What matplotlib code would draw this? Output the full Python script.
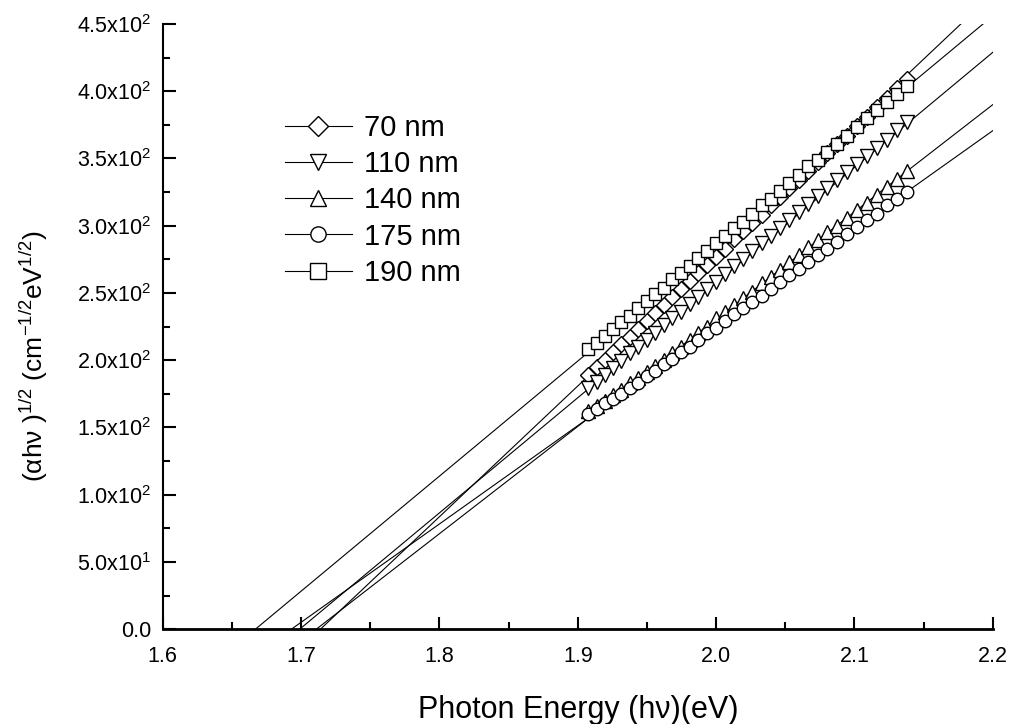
import numpy as np
import matplotlib
matplotlib.use("Agg")
import matplotlib.pyplot as plt
from matplotlib.lines import Line2D
from matplotlib.ticker import MultipleLocator, FuncFormatter

plt.rcParams['font.family'] = ['Liberation Sans', 'DejaVu Sans']
plt.rcParams['mathtext.fontset'] = 'custom'
plt.rcParams['mathtext.rm'] = 'Liberation Sans'
plt.rcParams['mathtext.it'] = 'Liberation Sans'
plt.rcParams['mathtext.default'] = 'regular'

# photon energy (eV)
energy = [1.9077, 1.9136, 1.9195, 1.9255, 1.9315, 1.9375, 1.9436, 1.9497, 1.9558,
          1.9620, 1.9683, 1.9745, 1.9808, 1.9872, 1.9936, 2.0000, 2.0065, 2.0130,
          2.0195, 2.0261, 2.0328, 2.0395, 2.0462, 2.0530, 2.0598, 2.0667, 2.0736,
          2.0805, 2.0875, 2.0946, 2.1017, 2.1088, 2.1160, 2.1233, 2.1306, 2.1379]

# (alpha h nu)^1/2 for each thickness
y_70 = [189, 195, 200, 206, 212, 217, 223, 229, 235, 241, 247, 253, 259, 265, 271, 277,
        283, 290, 296, 302, 308, 315, 321, 328, 334, 341, 347, 354, 361, 367, 374, 381,
        388, 395, 402, 409]
y_110 = [179, 184, 189, 194, 199, 205, 210, 215, 220, 226, 231, 236, 242, 247, 253, 258,
         264, 270, 275, 281, 287, 292, 298, 304, 310, 316, 322, 328, 334, 340, 346, 352,
         358, 364, 371, 377]
y_140 = [162, 166, 170, 174, 178, 183, 187, 191, 196, 200, 205, 210, 215, 220, 225, 231,
         236, 241, 246, 251, 257, 262, 267, 273, 278, 284, 289, 295, 300, 306, 312, 317,
         323, 329, 335, 341]
y_175 = [160, 164, 168, 171, 175, 179, 183, 188, 192, 197, 201, 206, 210, 215, 220, 224,
         229, 234, 239, 243, 248, 253, 258, 263, 268, 273, 278, 283, 288, 294, 299, 304,
         309, 315, 320, 325]
y_190 = [208, 213, 218, 223, 228, 233, 239, 244, 249, 254, 260, 265, 270, 276, 281, 287,
         292, 298, 303, 309, 315, 320, 326, 332, 338, 344, 349, 355, 361, 367, 373, 380,
         386, 392, 398, 404]

labels = ['70 nm', '110 nm', '140 nm', '175 nm', '190 nm']
markers = ['D', 'v', '^', 'o', 's']
msize = [8.5, 10, 10, 9, 9]
series = [y_70, y_110, y_140, y_175, y_190]

# linear extrapolation: band gap (x intercept) and slope
gap = [1.714, 1.699, 1.711, 1.693, 1.667]
slope = [972, 856, 797.5, 731, 855.5]

fig = plt.figure(figsize=(10.11, 7.24), dpi=100)
ax = fig.add_axes([0.161, 0.131, 0.821, 0.836])

for g, s in zip(gap, slope):
    xl = np.array([g, 2.25])
    ax.plot(xl, s * (xl - g), color='k', lw=0.8, zorder=2)

for y, m, ms in zip(series, markers, msize):
    ax.plot(energy, y, linestyle='none', marker=m, markersize=ms,
            markerfacecolor='white', markeredgecolor='k', markeredgewidth=1.0, zorder=3)

ax.set_xlim(1.6, 2.2)
ax.set_ylim(0, 450)
ax.spines['top'].set_visible(False)
ax.spines['right'].set_visible(False)
ax.spines['bottom'].set_linewidth(2)
ax.spines['left'].set_linewidth(1.5)

ax.xaxis.set_major_locator(MultipleLocator(0.1))
ax.xaxis.set_minor_locator(MultipleLocator(0.05))
ax.yaxis.set_major_locator(MultipleLocator(50))
ax.yaxis.set_minor_locator(MultipleLocator(25))


def yfmt(v, pos):
    if v < 1:
        return '0.0' if abs(v) < 1 else ''
    e = int(np.floor(np.log10(v)))
    return '%.1fx10$^{%d}$' % (v / 10 ** e, e)


ax.yaxis.set_major_formatter(FuncFormatter(yfmt))
ax.xaxis.set_major_formatter(FuncFormatter(lambda v, p: '%.1f' % v))
ax.tick_params(which='both', direction='in', width=1.5, labelsize=15.5)
ax.tick_params(which='major', length=9)
ax.tick_params(which='minor', length=5)
ax.tick_params(axis='x', pad=12)
ax.tick_params(axis='y', pad=8)

ax.set_xlabel('Photon Energy (h\u03bd)(eV)', fontsize=22)
ax.xaxis.set_label_coords(0.5, -0.108)
ax.set_ylabel('(\u03b1h\u03bd )$^{1/2}$ (cm$^{-1/2}$eV$^{1/2}$)', fontsize=19)
ax.yaxis.set_label_coords(-0.136, 0.451)

handles = [Line2D([], [], color='k', lw=0.8, marker=m, markersize=11 if m != 'D' else 10,
                  markerfacecolor='white', markeredgecolor='k', markeredgewidth=1.0)
           for m in markers]
ax.legend(handles, labels, loc='upper left', bbox_to_anchor=(0.147, 0.851), frameon=False,
          fontsize=21, handlelength=2.3, labelspacing=0.28, handletextpad=0.4,
          borderpad=0, borderaxespad=0)

fig.savefig('out.png', dpi=100)
